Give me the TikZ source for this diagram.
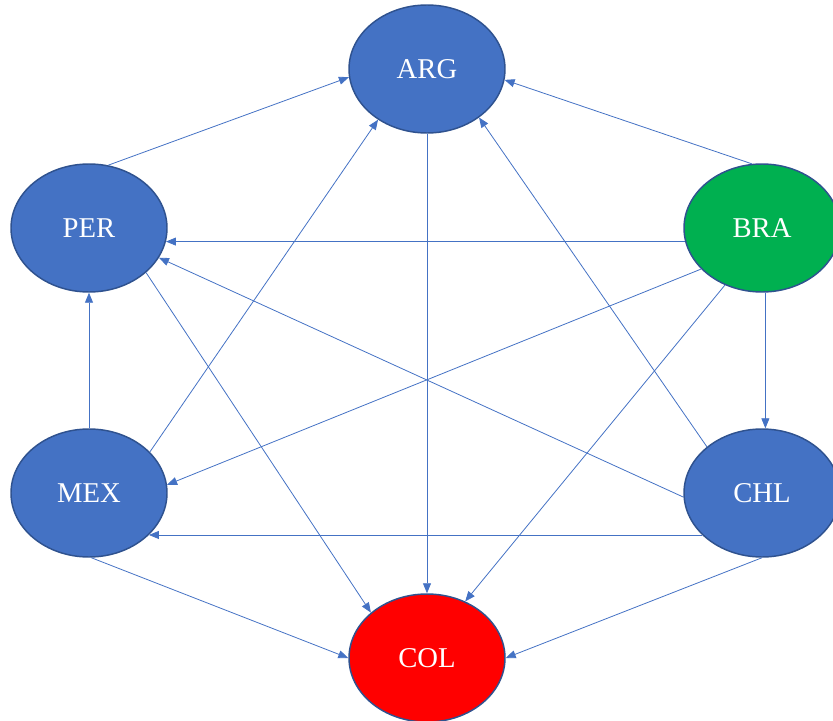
\documentclass[tikz,border=0pt]{standalone}
\usepackage{fontspec}
\setmainfont{Liberation Serif}
\usepackage{tikz}
\usetikzlibrary{arrows.meta,shapes.geometric}
\definecolor{cblue}{HTML}{4472C4}
\definecolor{cedge}{HTML}{2F528F}
\definecolor{cgreen}{HTML}{00B050}
\definecolor{cred}{HTML}{FF0000}

\begin{document}
\begin{tikzpicture}[
x=0.75pt,y=-0.75pt,
country/.style={ellipse,draw=cedge,line width=1.1pt,fill=cblue,
text=white,font=\fontsize{21.5}{25}\selectfont,inner sep=0pt,
minimum width=117pt,minimum height=96pt},
arr/.style={-{Triangle[length=7.5pt,width=6pt]},draw=cblue,line width=0.6pt}
]
\useasboundingbox (0,0) rectangle (833,721);

\node[country] (arg) at (427,69) {ARG};
\node[country] (per) at (89,228) {PER};
\node[country,fill=cgreen] (bra) at (762,228) {BRA};
\node[country] (mex) at (89,493) {MEX};
\node[country] (chl) at (762,493) {CHL};
\node[country,fill=cred] (col) at (427,658) {COL};

\draw[arr] (per.73) -- (arg.186);
\draw[arr] (bra.99) -- (arg.-8);
\draw[arr] (bra.190) -- (per.-10);
\draw[arr] (bra.214) -- (mex.6);
\draw[arr] (bra.237) -- (col.56);
\draw[arr] (bra.-87) -- (chl.87);
\draw[arr] (mex.90) -- (per.-90);
\draw[arr] (mex.34) -- (arg.226);
\draw[arr] (arg.-90) -- (col.90);
\draw[arr] (per.-38) -- (col.141);
\draw[arr] (chl.183) -- (per.-23);
\draw[arr] (chl.140) -- (arg.-43);
\draw[arr] (chl.215) -- (mex.-35);
\draw[arr] (chl.-90) -- (col.0);
\draw[arr] (mex.-88) -- (col.180);
\end{tikzpicture}
\end{document}
